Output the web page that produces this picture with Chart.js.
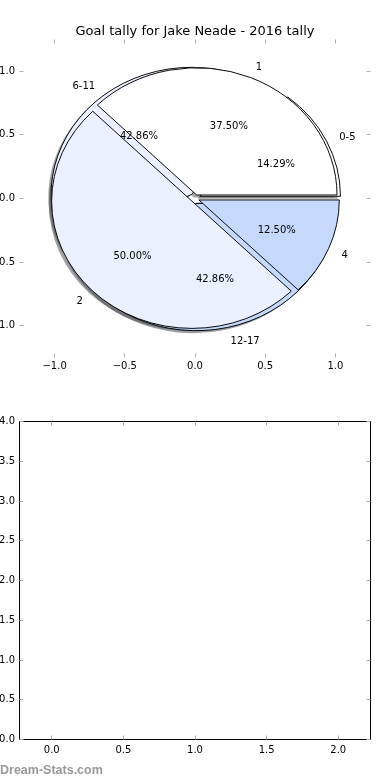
<!DOCTYPE html>
<html><head><meta charset="utf-8">
<script src="https://cdn.jsdelivr.net/npm/chart.js@4/dist/chart.umd.min.js"></script>
<style>
html,body{margin:0;padding:0;background:#fff;}
#wrap{position:relative;width:390px;height:780px;overflow:hidden;background:#fff;}
.box{position:absolute;left:0;width:390px;height:390px;}
#top{top:0}
#bot{top:390px}
#wm{position:absolute;left:0;top:763px;font:bold 12.5px "Liberation Sans",Arial,sans-serif;color:#999;line-height:14px;white-space:nowrap;}
</style></head><body>
<div id="wrap">
  <div class="box" id="top"><canvas id="c1"></canvas></div>
  <div class="box" id="bot"><canvas id="c2"></canvas></div>
  <div id="wm">Dream-Stats.com</div>
</div>
<script>
// ---- data ----
const TITLE = 'Goal tally for Jake Neade - 2016 tally';
const ageLabels = ['0-5', '6-11', '12-17'];
const ageCounts = [1, 3, 3];
const goalLabels = ['1', '2', '4'];
const goalCounts = [3, 4, 1];
const pieTicks = [-1.0, -0.5, 0.0, 0.5, 1.0];
const barXTicks = [0.0, 0.5, 1.0, 1.5, 2.0];
const barYTicks = [0.0, 0.5, 1.0, 1.5, 2.0, 2.5, 3.0, 3.5, 4.0];

// ---- styles ----
const sliceColors = ['#ffffff', '#eaf0fd', '#c4d9fb'];
const ageExplode = 0.04, goalExplode = 0.03;
Chart.defaults.font.family = '"DejaVu Sans", sans-serif';
Chart.defaults.color = '#000';

function shadowOf(hex) {
  const n = parseInt(hex.slice(1), 16);
  const r = (n >> 16) & 255, g = (n >> 8) & 255, b = n & 255;
  return `rgba(${Math.round(r * 0.3)},${Math.round(g * 0.3)},${Math.round(b * 0.3)},0.5)`;
}
const fmt = v => Number(v).toFixed(1).replace('-', '\u2212');

function geom(chart) {
  const xs = chart.scales.x, ys = chart.scales.y;
  const cx = xs.getPixelForValue(0), cy = ys.getPixelForValue(0);
  const R = xs.getPixelForValue(1) - cx;
  const sy = (cy - ys.getPixelForValue(1)) / R;
  const sdx = xs.getPixelForValue(-0.02) - cx, sdy = ys.getPixelForValue(-0.02) - cy;
  return {xs, ys, cx, cy, R, sy, sdx, sdy};
}

const piePlugin = {
  id: 'piePlugin',
  afterDatasetsUpdate(chart) {
    const g = geom(chart);
    chart.data.datasets.forEach((ds, i) => {
      chart.getDatasetMeta(i).data.forEach(arc => {
        const mid = (arc.startAngle + arc.endAngle) / 2;
        arc.x = g.cx + ds.explode * g.R * Math.cos(mid);
        arc.y = g.cy + ds.explode * g.R * Math.sin(mid);
        arc.innerRadius = 0;
        arc.outerRadius = g.R;
      });
    });
  },
  beforeDatasetDraw(chart, args) {
    const g = geom(chart), ctx = chart.ctx;
    const ds = chart.data.datasets[args.index];
    ctx.save();
    if (ds.shadow) ctx.translate(g.sdx, g.sdy);
    ctx.translate(g.cx, g.cy);
    ctx.scale(1, -g.sy);
    ctx.translate(-g.cx, -g.cy);
  },
  afterDatasetDraw(chart) { chart.ctx.restore(); },
  afterDatasetsDraw(chart) {
    const g = geom(chart), ctx = chart.ctx;
    const dy = 1.5; // matplotlib centres the text box including descent
    ctx.save();
    ctx.fillStyle = '#000';
    ctx.font = '10px "DejaVu Sans"';
    ctx.textBaseline = 'middle';
    chart.data.datasets.forEach((ds, i) => {
      if (ds.shadow) return;
      const total = ds.data.reduce((a, b) => a + b, 0);
      chart.getDatasetMeta(i).data.forEach((arc, j) => {
        const mid = (arc.startAngle + arc.endAngle) / 2;
        const c = Math.cos(mid), s = Math.sin(mid);
        const lr = ds.explode + 1.1, pr = ds.explode + 0.6;
        ctx.textAlign = c > 0 ? 'left' : 'right';
        ctx.fillText(ds.sliceLabels[j], g.xs.getPixelForValue(lr * c), g.ys.getPixelForValue(lr * s) + dy);
        ctx.textAlign = 'center';
        ctx.fillText((ds.data[j] / total * 100).toFixed(2) + '%', g.xs.getPixelForValue(pr * c), g.ys.getPixelForValue(pr * s) + dy);
      });
    });
    ctx.restore();
  }
};

const innerTicks = {
  id: 'innerTicks',
  afterDraw(chart) {
    const {ctx, chartArea: a} = chart, L = 4;
    const xs = chart.scales.x, ys = chart.scales.y;
    ctx.save();
    ctx.strokeStyle = '#b0b0b0';
    ctx.lineWidth = 1;
    ctx.beginPath();
    xs.ticks.forEach(t => {
      const p = Math.floor(xs.getPixelForValue(t.value)) + 0.5;
      ctx.moveTo(p, a.top); ctx.lineTo(p, a.top + L);
      ctx.moveTo(p, a.bottom); ctx.lineTo(p, a.bottom - L);
    });
    ys.ticks.forEach(t => {
      const p = Math.floor(ys.getPixelForValue(t.value)) + 0.5;
      ctx.moveTo(a.left, p); ctx.lineTo(a.left + L, p);
      ctx.moveTo(a.right, p); ctx.lineTo(a.right - L, p);
    });
    ctx.stroke();
    ctx.restore();
  }
};

const framePlugin = {
  id: 'framePlugin',
  afterDraw(chart) {
    const {ctx, chartArea: a} = chart;
    ctx.save();
    ctx.strokeStyle = '#000';
    ctx.lineWidth = 1;
    ctx.strokeRect(a.left, a.top, a.right - a.left, a.bottom - a.top);
    ctx.restore();
  }
};

function axis(min, max, tickVals, pos, fitSize, pad) {
  const o = {
    type: 'linear', position: pos, min, max,
    grid: {display: false, drawTicks: false},
    border: {display: false},
    afterBuildTicks: s => { s.ticks = tickVals.map(v => ({value: v})); },
    ticks: {color: '#000', font: {size: 10}, padding: pad, autoSkip: false, maxRotation: 0, callback: v => fmt(v)}
  };
  if (pos === 'bottom') o.afterFit = s => { s.height = fitSize; };
  else o.afterFit = s => { s.width = fitSize; };
  return o;
}

const pieDs = (data, labels, explode, shadow, order) => ({
  data, sliceLabels: labels, explode, shadow, order, clip: false,
  backgroundColor: shadow ? sliceColors.map(shadowOf) : sliceColors,
  borderColor: shadow ? sliceColors.map(shadowOf) : '#000',
  borderWidth: shadow ? 0 : 1,
  borderJoinStyle: 'miter',
  hoverOffset: 0
});

new Chart(document.getElementById('c1'), {
  type: 'pie',
  data: {
    labels: ageLabels,
    datasets: [
      pieDs(ageCounts, ageLabels, ageExplode, true, 4),
      pieDs(goalCounts, goalLabels, goalExplode, true, 3),
      pieDs(ageCounts, ageLabels, ageExplode, false, 2),
      pieDs(goalCounts, goalLabels, goalExplode, false, 1)
    ]
  },
  options: {
    responsive: true, maintainAspectRatio: false, animation: false,
    rotation: 90,
    events: [],
    layout: {padding: {left: 0, right: 19.5, top: 0, bottom: 0}},
    plugins: {
      legend: {display: false}, tooltip: {enabled: false},
      title: {display: true, text: TITLE, fullSize: false, color: '#000',
        font: {size: 13, weight: 'normal'}, padding: {top: 23.5, bottom: 0.4}}
    },
    scales: {
      x: axis(-1.25, 1.25, pieTicks, 'bottom', 32.5, 3),
      y: axis(-1.25, 1.25, pieTicks, 'left', 19.5, 4.5)
    }
  },
  plugins: [piePlugin, innerTicks]
});

new Chart(document.getElementById('c2'), {
  type: 'scatter',
  data: {datasets: [{data: []}]},
  options: {
    responsive: true, maintainAspectRatio: false, animation: false,
    events: [],
    layout: {padding: {left: 0, right: 19.5, top: 31.5, bottom: 0}},
    plugins: {legend: {display: false}, tooltip: {enabled: false}},
    scales: {
      x: axis(-0.225, 2.225, barXTicks, 'bottom', 40.5, 5),
      y: axis(0, 4, barYTicks, 'left', 19.5, 4.5)
    }
  },
  plugins: [framePlugin, innerTicks]
});
</script>
</body></html>
